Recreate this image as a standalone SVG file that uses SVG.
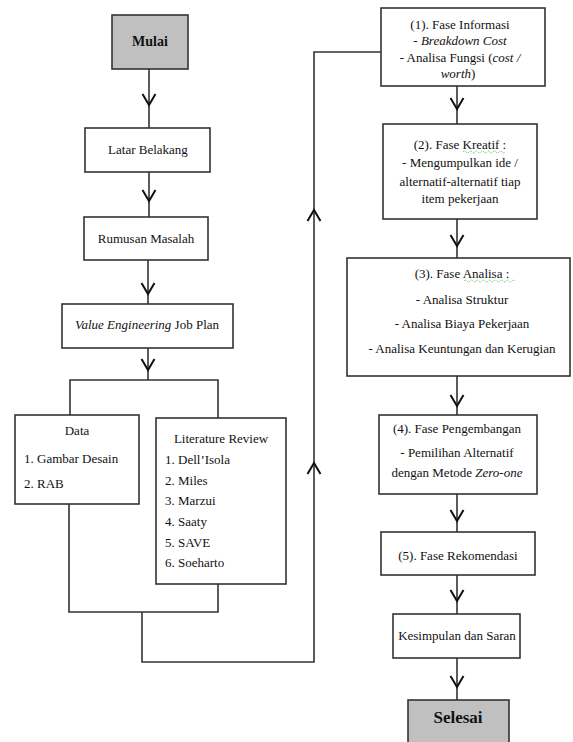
<svg xmlns="http://www.w3.org/2000/svg" width="573" height="742" viewBox="0 0 573 742">
<style>
.box{fill:#fff;stroke:#333;stroke-width:1.6}
.term{fill:#c0c0c0;stroke:#333;stroke-width:1.6}
.ln{fill:none;stroke:#333;stroke-width:1.6}
.ah{fill:none;stroke:#111;stroke-width:2}
text{font-family:'Liberation Serif','Times New Roman',serif;font-size:13px;fill:#111}
.c{text-anchor:middle}
.b{font-weight:bold}
.i{font-style:italic}
.big{font-size:17px}
.mid{font-size:14px}
.sq{fill:none;stroke:#3a3;stroke-width:0.8;stroke-dasharray:1 1}
</style>
<defs>
<path id="ah" d="M-6.5,-11 L0,0 L6.5,-11"/>
</defs>
<rect width="573" height="742" fill="#fff"/>

<g id="connectors">
<path class="ln" d="M149,69 V128"/>
<path class="ln" d="M149,172 V217"/>
<path class="ln" d="M148,260 V304"/>
<path class="ln" d="M148,348 V380"/>
<path class="ln" d="M70,415 V380 H218 V418"/>
<path class="ln" d="M69,504 V612 H218 V584"/>
<path class="ln" d="M142,612 V662 H314 V52 H381"/>
<path class="ln" d="M457,86 V124"/>
<path class="ln" d="M457,219 V258"/>
<path class="ln" d="M457,376 V415"/>
<path class="ln" d="M457,494 V532"/>
<path class="ln" d="M457,575 V614"/>
<path class="ln" d="M457,658 V700"/>
<use href="#ah" class="ah" x="149" y="105"/>
<use href="#ah" class="ah" x="149" y="201"/>
<use href="#ah" class="ah" x="148" y="294"/>
<use href="#ah" class="ah" x="148" y="370"/>
<use href="#ah" class="ah" x="457" y="109"/>
<use href="#ah" class="ah" x="457" y="246"/>
<use href="#ah" class="ah" x="457" y="406"/>
<use href="#ah" class="ah" x="457" y="521"/>
<use href="#ah" class="ah" x="457" y="601"/>
<use href="#ah" class="ah" x="457" y="687"/>
<use href="#ah" class="ah" transform="translate(314,210) rotate(180)"/>
<use href="#ah" class="ah" transform="translate(314,463) rotate(180)"/>
</g>

<g id="mulai">
<rect class="term" x="112" y="15" width="76" height="54"/>
<text class="c b mid" x="150" y="46">Mulai</text>
</g>

<g id="latar-belakang">
<rect class="box" x="85" y="128" width="125" height="44"/>
<text class="c" x="148" y="154">Latar Belakang</text>
</g>

<g id="rumusan-masalah">
<rect class="box" x="84" y="217" width="124" height="43"/>
<text class="c" x="146" y="243">Rumusan Masalah</text>
</g>

<g id="ve-job-plan">
<rect class="box" x="62" y="304" width="171" height="44"/>
<text class="c" x="147" y="329"><tspan class="i">Value Engineering</tspan> Job Plan</text>
</g>

<g id="data">
<rect class="box" x="15" y="415" width="124" height="89"/>
<text class="c" x="77" y="435">Data</text>
<text x="24" y="463">1. Gambar Desain</text>
<text x="24" y="488">2. RAB</text>
</g>

<g id="literature-review">
<rect class="box" x="156" y="418" width="130" height="166"/>
<text class="c" x="221" y="443">Literature Review</text>
<text x="165" y="464">1. Dell’Isola</text>
<text x="165" y="485">2. Miles</text>
<text x="165" y="505">3. Marzui</text>
<text x="165" y="526">4. Saaty</text>
<text x="165" y="547">5. SAVE</text>
<text x="165" y="567">6. Soeharto</text>
</g>

<g id="fase-informasi">
<rect class="box" x="381" y="8" width="164" height="78"/>
<text class="c" x="460" y="29">(1). Fase Informasi</text>
<text class="c" x="460" y="45">- <tspan class="i">Breakdown Cost</tspan></text>
<text class="c" x="460" y="62">- Analisa Fungsi (<tspan class="i">cost /</tspan></text>
<text class="c" x="458" y="78"><tspan class="i">worth</tspan>)</text>
</g>

<g id="fase-kreatif">
<rect class="box" x="383" y="124" width="154" height="95"/>
<text class="c" x="460" y="149">(2). Fase Kreatif :</text>
<path class="sq" d="M463,152 q1.5,-2 3,0 t3,0 t3,0 t3,0 t3,0 t3,0 t3,0 t3,0 t3,0 t3,0 t3,0 t3,0 t3,0 t3,0"/>
<text class="c" x="460" y="167">- Mengumpulkan ide /</text>
<text class="c" x="460" y="186">alternatif-alternatif tiap</text>
<text class="c" x="460" y="203">item pekerjaan</text>
</g>

<g id="fase-analisa">
<rect class="box" x="347" y="258" width="223" height="118"/>
<text class="c" x="462" y="278">(3). Fase Analisa :</text>
<path class="sq" d="M464,281 q1.5,-2 3,0 t3,0 t3,0 t3,0 t3,0 t3,0 t3,0 t3,0 t3,0 t3,0 t3,0 t3,0 t3,0 t3,0 t3,0 t3,0 t3,0"/>
<text class="c" x="462" y="304">- Analisa Struktur</text>
<text class="c" x="462" y="328">- Analisa Biaya Pekerjaan</text>
<text class="c" x="462" y="353">- Analisa Keuntungan dan Kerugian</text>
</g>

<g id="fase-pengembangan">
<rect class="box" x="379" y="415" width="158" height="79"/>
<text class="c" x="457" y="433">(4). Fase Pengembangan</text>
<text class="c" x="457" y="457">- Pemilihan Alternatif</text>
<text class="c" x="457" y="477">dengan Metode <tspan class="i">Zero-one</tspan></text>
</g>

<g id="fase-rekomendasi">
<rect class="box" x="381" y="532" width="154" height="43"/>
<text class="c" x="458" y="560">(5). Fase Rekomendasi</text>
</g>

<g id="kesimpulan">
<rect class="box" x="393" y="614" width="127" height="44"/>
<text class="c" x="457" y="640">Kesimpulan dan Saran</text>
</g>

<g id="selesai">
<rect class="term" x="408" y="700" width="101" height="60"/>
<text class="c b big" x="458" y="723">Selesai</text>
</g>
</svg>
